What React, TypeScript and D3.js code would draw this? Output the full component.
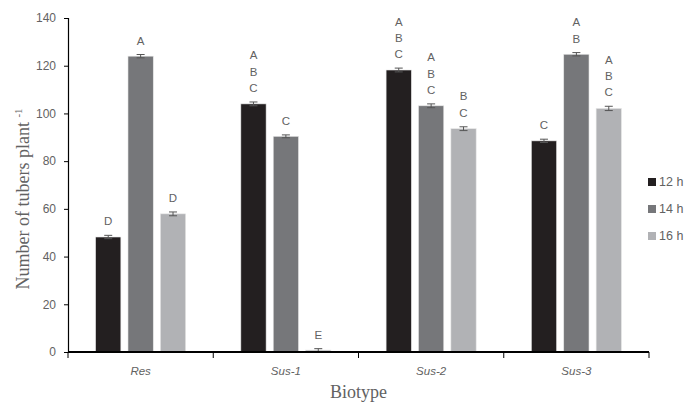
import React, { useEffect, useRef } from "react";
import * as d3 from "d3";

const biotypes = ["Res", "Sus-1", "Sus-2", "Sus-3"];
const series = ["12 h", "14 h", "16 h"];
const colors = ["#231f20", "#76777a", "#b1b2b5"];

const values12 = [48.2, 104, 118.2, 88.5];
const values14 = [124, 90.4, 103.2, 124.8];
const values16 = [57.9, 0.8, 93.6, 102.1];
const errors12 = [0.7, 0.8, 0.8, 0.7];
const errors14 = [0.7, 0.6, 0.8, 0.7];
const errors16 = [0.8, 0.6, 0.8, 0.9];
const letters12 = ["D", "ABC", "ABC", "C"];
const letters14 = ["A", "C", "ABC", "AB"];
const letters16 = ["D", "E", "BC", "ABC"];

const yTicks = [0, 20, 40, 60, 80, 100, 120, 140];

const App = () => {
  const svgRef = useRef<SVGSVGElement>(null);

  useEffect(() => {
    const svg = d3.select(svgRef.current);
    svg.selectAll("*").remove();

    const height = 404;
    const margin = { top: 18, right: 35, bottom: 52, left: 68 };
    const plotRight = 649;

    const allValues = [values12, values14, values16];
    const allErrors = [errors12, errors14, errors16];
    const allLetters = [letters12, letters14, letters16];

    const x = d3.scaleBand()
      .domain(biotypes)
      .range([margin.left, plotRight])
      .paddingInner(0.38)
      .paddingOuter(0.19);

    const xStep = (plotRight - margin.left) / biotypes.length;

    const xInner = d3.scaleBand()
      .domain(series)
      .range([0, x.bandwidth()])
      .paddingInner(0.22);

    const y = d3.scaleLinear()
      .domain([0, 140])
      .range([height - margin.bottom, margin.top]);

    const labelColor = "#626262";
    const sans = "'Liberation Sans', Arial, sans-serif";
    const serif = "'Liberation Serif', 'Times New Roman', serif";

    // y axis
    const yAxis = svg.append("g")
      .attr("transform", `translate(${margin.left},0)`)
      .call(d3.axisLeft(y).tickValues(yTicks).tickSize(4).tickPadding(8));
    yAxis.select(".domain").attr("stroke", "#000").attr("stroke-width", 1.2);
    yAxis.selectAll(".tick line").attr("stroke", "#000");
    yAxis.selectAll(".tick text")
      .attr("fill", labelColor)
      .style("font-family", sans)
      .style("font-size", "12px");

    // bars
    series.forEach((s, si) => {
      const g = svg.append("g");
      biotypes.forEach((b, bi) => {
        const v = allValues[si][bi];
        const e = allErrors[si][bi];
        const bx = (x(b) as number) + (xInner(s) as number);
        const bw = xInner.bandwidth();
        g.append("rect")
          .attr("x", bx)
          .attr("y", y(v))
          .attr("width", bw)
          .attr("height", y(0) - y(v))
          .attr("fill", colors[si])
          .attr("stroke", "#e6e6e6")
          .attr("stroke-width", 0.6);

        const cx = bx + bw / 2;
        const err = g.append("g").attr("stroke", "#555").attr("stroke-width", 1);
        err.append("line").attr("x1", cx).attr("x2", cx).attr("y1", y(v - e)).attr("y2", y(v + e));
        err.append("line").attr("x1", cx - 4).attr("x2", cx + 4).attr("y1", y(v + e)).attr("y2", y(v + e));
        err.append("line").attr("x1", cx - 4).attr("x2", cx + 4).attr("y1", y(v - e)).attr("y2", y(v - e));

        const chars = allLetters[si][bi].split("");
        chars.forEach((c, ci) => {
          g.append("text")
            .attr("x", cx)
            .attr("y", y(v + e) - 10 - (chars.length - 1 - ci) * 16.3)
            .attr("text-anchor", "middle")
            .attr("fill", labelColor)
            .style("font-family", sans)
            .style("font-size", "11.5px")
            .text(c);
        });
      });
    });

    // x axis
    const baseY = y(0);
    svg.append("line")
      .attr("x1", margin.left)
      .attr("x2", plotRight)
      .attr("y1", baseY)
      .attr("y2", baseY)
      .attr("stroke", "#000")
      .attr("stroke-width", 2);
    d3.range(biotypes.length + 1).forEach(i => {
      const tx = margin.left + i * xStep;
      svg.append("line")
        .attr("x1", tx).attr("x2", tx)
        .attr("y1", baseY).attr("y2", baseY + 6)
        .attr("stroke", "#000");
    });
    biotypes.forEach(b => {
      svg.append("text")
        .attr("x", (x(b) as number) + x.bandwidth() / 2)
        .attr("y", baseY + 23)
        .attr("text-anchor", "middle")
        .attr("fill", labelColor)
        .style("font-family", sans)
        .style("font-size", "11.5px")
        .style("font-style", "italic")
        .text(b);
    });

    // axis titles
    svg.append("text")
      .attr("x", (margin.left + plotRight) / 2)
      .attr("y", 398)
      .attr("text-anchor", "middle")
      .attr("fill", labelColor)
      .style("font-family", serif)
      .style("font-size", "18px")
      .text("Biotype");

    const yTitle = svg.append("text")
      .attr("transform", `translate(29,${(margin.top + baseY) / 2 + 14}) rotate(-90)`)
      .attr("text-anchor", "middle")
      .attr("fill", labelColor)
      .style("font-family", serif)
      .style("font-size", "18px");
    yTitle.append("tspan").text("Number of tubers plant ");
    yTitle.append("tspan").attr("dy", -7).style("font-size", "11px").text("-1");

    // legend
    const legend = svg.append("g").attr("transform", "translate(648,186)");
    series.forEach((s, i) => {
      const row = legend.append("g").attr("transform", `translate(0,${i * 27})`);
      row.append("rect")
        .attr("x", 0).attr("y", -8)
        .attr("width", 8).attr("height", 8)
        .attr("fill", colors[i]);
      row.append("text")
        .attr("x", 11).attr("y", 0)
        .attr("fill", labelColor)
        .style("font-family", sans)
        .style("font-size", "12.5px")
        .text(s);
    });
  }, []);

  return <svg ref={svgRef} width={684} height={404} style={{ position: "absolute", left: 0, top: 0 }}></svg>;
};

export default App;
